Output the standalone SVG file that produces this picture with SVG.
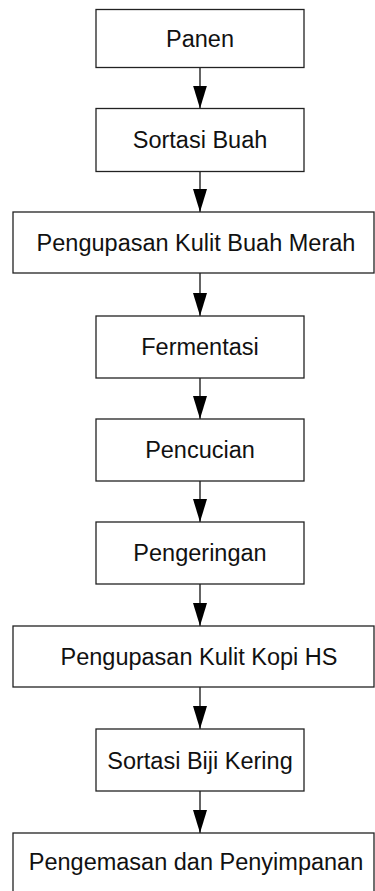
<svg xmlns="http://www.w3.org/2000/svg" width="375" height="891" viewBox="0 0 375 891">
<style>
.box{fill:#ffffff;stroke:#222222;stroke-width:1.3}
.lbl{font-family:"Liberation Sans",Arial,sans-serif;font-size:23.5px;fill:#111111;text-anchor:middle}
.conn{stroke:#111111;stroke-width:1.3;fill:none;marker-end:url(#ah)}
</style>
<defs>
<marker id="ah" markerUnits="userSpaceOnUse" markerWidth="23" markerHeight="14" refX="23" refY="7" orient="auto">
<path d="M0,0 L23,7 L0,14 Z" fill="#000000"/>
</marker>
</defs>
<rect width="375" height="891" fill="#ffffff"/>
<g id="connectors">
<line class="conn" x1="200" y1="67.5" x2="200" y2="108.5"/>
<line class="conn" x1="200" y1="171.5" x2="200" y2="212"/>
<line class="conn" x1="200" y1="273" x2="200" y2="316"/>
<line class="conn" x1="200" y1="378" x2="200" y2="419"/>
<line class="conn" x1="200" y1="481" x2="200" y2="522"/>
<line class="conn" x1="200" y1="584" x2="200" y2="626"/>
<line class="conn" x1="200" y1="687" x2="200" y2="729"/>
<line class="conn" x1="200" y1="791" x2="200" y2="833"/>
</g>
<g id="n1"><rect class="box" x="96" y="9.5" width="208" height="58"/><text class="lbl" x="200" y="46.5">Panen</text></g>
<g id="n2"><rect class="box" x="96" y="108.5" width="208" height="63"/><text class="lbl" x="200" y="148">Sortasi Buah</text></g>
<g id="n3"><rect class="box" x="13" y="212" width="361" height="61"/><text class="lbl" x="196" y="250.5">Pengupasan Kulit Buah Merah</text></g>
<g id="n4"><rect class="box" x="96" y="316" width="208" height="62"/><text class="lbl" x="200" y="354.5">Fermentasi</text></g>
<g id="n5"><rect class="box" x="96" y="419" width="208" height="62"/><text class="lbl" x="200" y="457.5">Pencucian</text></g>
<g id="n6"><rect class="box" x="96" y="522" width="208" height="62"/><text class="lbl" x="200" y="560.5">Pengeringan</text></g>
<g id="n7"><rect class="box" x="13" y="626" width="361" height="61"/><text class="lbl" x="199" y="664.5">Pengupasan Kulit Kopi HS</text></g>
<g id="n8"><rect class="box" x="96" y="729" width="208" height="62"/><text class="lbl" x="200" y="768.5">Sortasi Biji Kering</text></g>
<g id="n9"><rect class="box" x="13" y="833" width="361" height="70"/><text class="lbl" x="196" y="869.5">Pengemasan dan Penyimpanan</text></g>
</svg>
